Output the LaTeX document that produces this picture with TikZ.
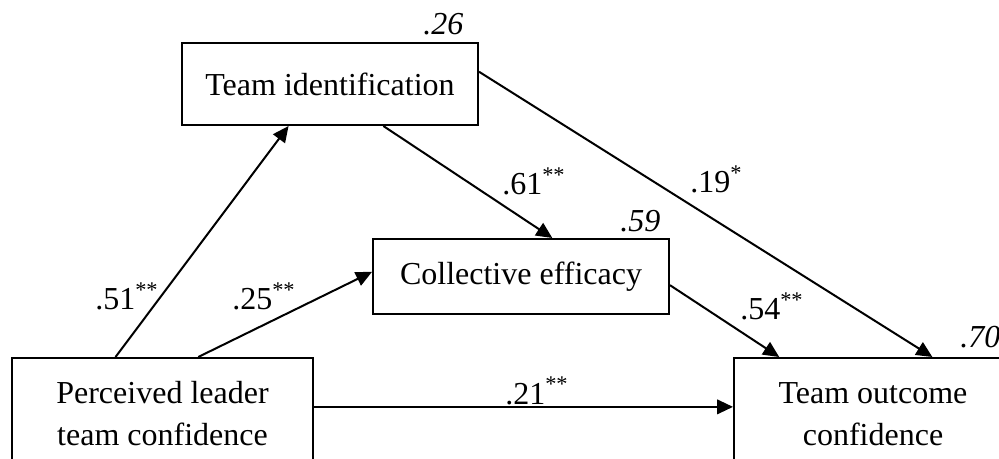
\documentclass[tikz,border=0pt]{standalone}
\usepackage{fontspec}
\setmainfont{Liberation Serif}
\usetikzlibrary{arrows.meta,calc}
\begin{document}
\begin{tikzpicture}[x=0.75pt,y=-0.75pt,
  box/.style={draw,line width=1.5pt,inner sep=0pt,align=center,
    font=\fontsize{24}{31.5}\selectfont},
  coef/.style={inner sep=0pt,anchor=base west,font=\fontsize{24}{28}\selectfont},
  rsq/.style={inner sep=0pt,anchor=base west,font=\fontsize{24}{28}\selectfont\itshape},
  path/.style={line width=1.5pt,-{Triangle[length=12pt,width=11pt]}},
  plain/.style={line width=1.5pt}]
\useasboundingbox (0,0) rectangle (999,459);
\clip (0,0) rectangle (999,459);
\node[box,minimum width=222pt,minimum height=61.5pt] (TI) at (330,84) {Team identification};
\node[box,minimum width=222pt,minimum height=56.25pt] (CE) at (521,276.5) {Collective efficacy};
\node[box,minimum width=225.75pt,minimum height=84pt] (PL) at (162.5,414) {Perceived leader\\team confidence};
\node[box,minimum width=208.5pt,minimum height=84pt] (TO) at (873,414) {Team outcome\\confidence};
% connectors
\draw[path] ($(PL.north west)!0.345!(PL.north east)$) -- ($(TI.south west)!0.361!(TI.south east)$);
\draw[path] ($(PL.north west)!0.618!(PL.north east)$) -- ($(CE.north west)!0.44!(CE.south west)$);
\draw[path] ($(TI.south west)!0.679!(TI.south east)$) -- ($(CE.north west)!0.605!(CE.north east)$);
\draw[path] ($(TI.north east)!0.354!(TI.south east)$) -- ($(TO.north west)!0.712!(TO.north east)$);
\draw[path] ($(CE.north east)!0.613!(CE.south east)$) -- ($(TO.north west)!0.165!(TO.north east)$);
\coordinate (h) at ($(PL.north east)!0.4375!(PL.south east)$);
\draw[path] (h) -- (h -| TO.west);
% coefficients
\node[coef] (l51) at (95,310) {.51\textsuperscript{**}};
\node[coef] (l25) at (232,310) {.25\textsuperscript{**}};
\node[coef] (l61) at (502,195) {.61\textsuperscript{**}};
\node[coef] (l19) at (690,193) {.19\textsuperscript{*}};
\node[coef] (l54) at (740,320) {.54\textsuperscript{**}};
\node[coef] (l21) at (505,404) {.21\textsuperscript{**}};
% R squared
\node[rsq] (r26) at (423,35) {.26};
\node[rsq] (r59) at (620,232) {.59};
\node[rsq] (r70) at (960,348) {.70};
\end{tikzpicture}
\end{document}
